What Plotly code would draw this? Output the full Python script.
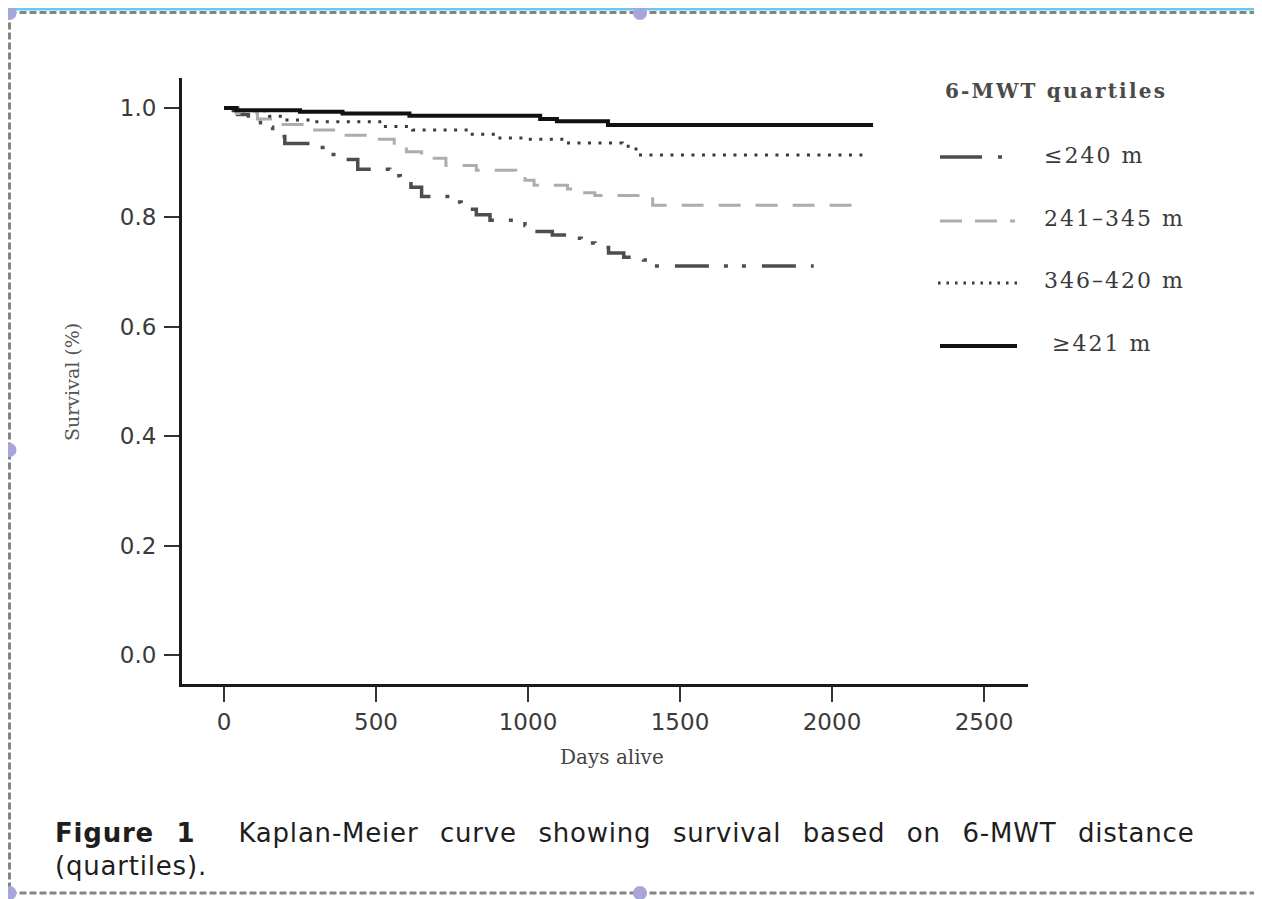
import plotly.graph_objects as go

# ---------------- data ----------------
series_names = ["≤240 m", "241–345 m", "346–420 m", "≥421 m"]

q1_days = [0, 45, 80, 120, 160, 200, 300, 345, 400, 440, 545, 580, 615, 650, 745, 780, 830, 875,
           990, 1020, 1080, 1145, 1175, 1220, 1265, 1315, 1380, 1410, 1940]
q1_surv = [1.0, 0.988, 0.978, 0.965, 0.948, 0.935, 0.928, 0.915, 0.906, 0.888, 0.876, 0.866, 0.855,
           0.838, 0.828, 0.815, 0.805, 0.795, 0.785, 0.774, 0.768, 0.762, 0.753, 0.745, 0.735, 0.727,
           0.722, 0.711, 0.711]

q2_days = [0, 40, 110, 180, 280, 380, 470, 560, 600, 650, 730, 830, 960, 990, 1020, 1130, 1160,
           1220, 1410, 2100]
q2_surv = [1.0, 0.99, 0.98, 0.97, 0.96, 0.95, 0.943, 0.93, 0.92, 0.908, 0.895, 0.886, 0.876, 0.868,
           0.859, 0.852, 0.845, 0.84, 0.822, 0.822]

q3_days = [0, 30, 150, 200, 290, 520, 620, 810, 900, 1000, 1125, 1310, 1340, 1370, 2100]
q3_surv = [1.0, 0.995, 0.985, 0.978, 0.975, 0.966, 0.96, 0.952, 0.945, 0.943, 0.936, 0.93, 0.925,
           0.914, 0.914]

q4_days = [0, 40, 250, 390, 610, 1040, 1095, 1263, 2135]
q4_surv = [1.0, 0.996, 0.993, 0.99, 0.986, 0.98, 0.976, 0.969, 0.969]

x_ticks = [0, 500, 1000, 1500, 2000, 2500]
y_ticks = [0.0, 0.2, 0.4, 0.6, 0.8, 1.0]
y_tick_labels = ["0.0", "0.2", "0.4", "0.6", "0.8", "1.0"]

# ---------------- styles ----------------
styles = [
    dict(color="#4d4d4d", width=3.5, dash="34px,15px,4px,14px,4px,16px"),
    dict(color="#adadad", width=3, dash="22px,15px"),
    dict(color="#3a3a3a", width=3, dash="3px,7.5px"),
    dict(color="#111111", width=4, dash="solid"),
]

# page geometry (browser page pixels); the page body has an 8px margin
OFF = 8
PW, PH = 1262, 899
W, H = PW - OFF, PH - OFF
Lp, Rp, Tp, Bp = 182, 1028, 78, 684      # plot area on the page
X0P, XPX = 224, 0.304                    # page x of day 0, pixels per day
Y0P, YPX = 655, 547                      # page y of survival 0, pixels per unit

x_range = [(Lp - X0P) / XPX, (Rp - X0P) / XPX]
y_range = [(Y0P - Bp) / YPX, (Y0P - Tp) / YPX]


def fx(x):
    return (x - Lp) / (Rp - Lp)


def fy(y):
    return (Bp - y) / (Bp - Tp)


fig = go.Figure()
for name, d, s, st in zip(series_names, [q1_days, q2_days, q3_days, q4_days],
                          [q1_surv, q2_surv, q3_surv, q4_surv], styles):
    fig.add_trace(go.Scatter(x=d, y=s, mode="lines", name=name, line_shape="hv",
                             line=st, showlegend=False))

serif = "DejaVu Serif"
sans = "DejaVu Sans"

fig.update_layout(
    width=W, height=H,
    margin=dict(l=Lp - OFF, r=W - (Rp - OFF), t=Tp - OFF, b=H - (Bp - OFF)),
    paper_bgcolor="white", plot_bgcolor="white",
    xaxis=dict(range=x_range, tickvals=x_ticks, showgrid=False, zeroline=False,
               showline=True, linecolor="#1a1a1a", linewidth=3,
               ticks="outside", ticklen=15, tickwidth=2, tickcolor="#333",
               tickfont=dict(family=sans, size=23, color="#3a3a3a"), ticklabelstandoff=0),
    yaxis=dict(range=y_range, tickvals=y_ticks, ticktext=y_tick_labels,
               showgrid=False, zeroline=False,
               showline=True, linecolor="#1a1a1a", linewidth=3,
               ticks="outside", ticklen=15, tickwidth=2, tickcolor="#333",
               tickfont=dict(family=sans, size=23, color="#3a3a3a"), ticklabelstandoff=3),
    showlegend=False,
)

ann = []
# axis titles
ann.append(dict(x=fx(612), y=fy(757), xref="paper", yref="paper", showarrow=False,
                text="Days alive", font=dict(family=serif, size=20, color="#444"),
                xanchor="center", yanchor="middle"))
ann.append(dict(x=fx(72), y=fy(382), xref="paper", yref="paper", showarrow=False,
                text="Survival (%)", textangle=-90, font=dict(family=serif, size=19, color="#555"),
                xanchor="center", yanchor="middle"))

# legend (drawn manually to match the long sample lines)
ann.append(dict(x=fx(943), y=fy(91), xref="paper", yref="paper", showarrow=False,
                text='<span style="letter-spacing:2.2px"><b>6-MWT quartiles</b></span>',
                font=dict(family=serif, size=20, color="#4a4a4a"), xanchor="left", yanchor="middle"))
leg_rows = [(1042, 155, 157, 940, 1004), (1042, 218, 221, 940, 1015),
            (1042, 280, 283, 938, 1017), (1050, 343, 346, 940, 1017)]
leg_dash = ["42px,16px,4px,60px", "22px,13px", "2.5px,6px", "solid"]
shapes = []
for (tx, ty, ly, lx0, lx1), name, st, dd in zip(leg_rows, series_names, styles, leg_dash):
    ann.append(dict(x=fx(tx), y=fy(ty), xref="paper", yref="paper", showarrow=False,
                    text='<span style="letter-spacing:2px">%s</span>' % name,
                    font=dict(family=serif, size=22, color="#3a3a3a"), xanchor="left", yanchor="middle"))
    shapes.append(dict(type="line", xref="paper", yref="paper", x0=fx(lx0), x1=fx(lx1),
                       y0=fy(ly), y1=fy(ly), line=dict(color=st["color"], width=st["width"], dash=dd)))

# caption
cap_style = "letter-spacing:0.8px; word-spacing:12.5px"
ann.append(dict(x=fx(53), y=fy(833), xref="paper", yref="paper", showarrow=False,
                text='<span style="%s"><b>Figure 1</b>  Kaplan-Meier curve showing survival based on 6-MWT distance</span>' % cap_style,
                font=dict(family=sans, size=26, color="#1e1e1e"), xanchor="left", yanchor="middle"))
ann.append(dict(x=fx(53), y=fy(866), xref="paper", yref="paper", showarrow=False,
                text='<span style="%s">(quartiles).</span>' % cap_style,
                font=dict(family=sans, size=26, color="#1e1e1e"), xanchor="left", yanchor="middle"))

# page decorations: blue bar, dashed selection frame and handles
shapes.append(dict(type="rect", xref="paper", yref="paper", x0=fx(0), x1=fx(PW + 10),
                   y0=fy(OFF - 2), y1=fy(OFF + 2.5), line=dict(width=0), fillcolor="#64c8f8"))
frame = dict(color="#858585", width=3, dash="7px,3px")
shapes.append(dict(type="line", xref="paper", yref="paper", x0=fx(OFF + 1.5), x1=fx(PW + 10),
                   y0=fy(OFF + 4.5), y1=fy(OFF + 4.5), line=frame))
shapes.append(dict(type="line", xref="paper", yref="paper", x0=fx(OFF + 1.5), x1=fx(PW + 10),
                   y0=fy(893), y1=fy(893), line=frame))
shapes.append(dict(type="line", xref="paper", yref="paper", x0=fx(OFF + 1.5), x1=fx(OFF + 1.5),
                   y0=fy(OFF + 4.5), y1=fy(893), line=frame))
for hx, hy in [(OFF + 1.5, OFF + 5), (640, OFF + 5), (OFF + 1.5, 450), (PW + 3, 450),
               (640, 893), (OFF + 1.5, 893)]:
    shapes.append(dict(type="circle", xref="paper", yref="paper", x0=fx(hx - 7), x1=fx(hx + 7),
                       y0=fy(hy - 7), y1=fy(hy + 7), line=dict(width=0), fillcolor="#a6a6dc"))

fig.update_layout(annotations=ann, shapes=shapes)
fig.write_html("out.html")
